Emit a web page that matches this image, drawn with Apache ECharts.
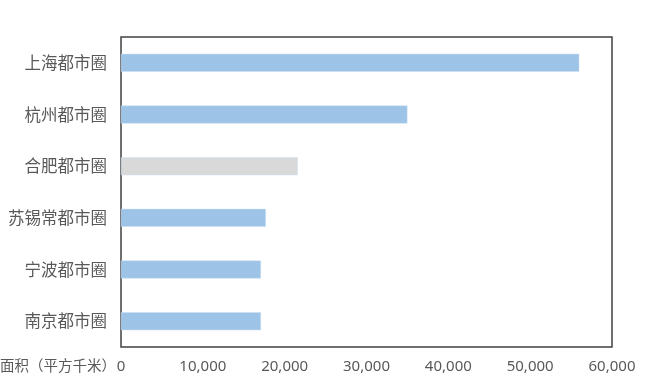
<!DOCTYPE html>
<html><head><meta charset="utf-8">
<script src="https://cdn.jsdelivr.net/npm/echarts@6/dist/echarts.min.js"></script>
<style>html,body{margin:0;padding:0;background:#fff}#c{width:651px;height:387px}</style>
</head><body><div id="c"></div>
<script>
var categories = ['上海都市圈','杭州都市圈','合肥都市圈','苏锡常都市圈','宁波都市圈','南京都市圈'];
var areaValues = [56000, 35000, 21600, 17700, 17100, 17100];
var barColors = ['#9DC3E6','#9DC3E6','#D9D9D9','#9DC3E6','#9DC3E6','#9DC3E6'];
var axisTitle = '面积（平方千米）';

var chart = echarts.init(document.getElementById('c'));
chart.setOption({
  animation: false,
  grid: {left: 121, right: 39, top: 37, bottom: 40, show: true, borderColor: '#404040', borderWidth: 1.5, containLabel: false},
  xAxis: {type: 'value', min: 0, max: 60000, interval: 10000,
    axisLine: {show: false}, axisTick: {show: false}, splitLine: {show: false},
    axisLabel: {color: '#595959', fontSize: 15, fontFamily: 'Noto Sans, sans-serif', margin: 12,
      formatter: function(v){return v.toLocaleString('en-US');}}},
  yAxis: {type: 'category', data: categories, inverse: true,
    axisLine: {show: false}, axisTick: {show: false}, splitLine: {show: false},
    axisLabel: {color: '#595959', fontSize: 16.5, fontFamily: 'Noto Sans CJK SC', margin: 14}},
  series: [{type: 'bar', barWidth: 18,
    data: areaValues.map(function(v,i){return {value: v, itemStyle: {color: barColors[i], borderColor: '#C9DFF2', borderWidth: 0.5}};})}],
  graphic: [{type: 'text', left: 0, top: 358, style: {text: axisTitle, fill: '#595959', font: '14.5px "Noto Sans CJK SC"'}}]
});
</script></body></html>
